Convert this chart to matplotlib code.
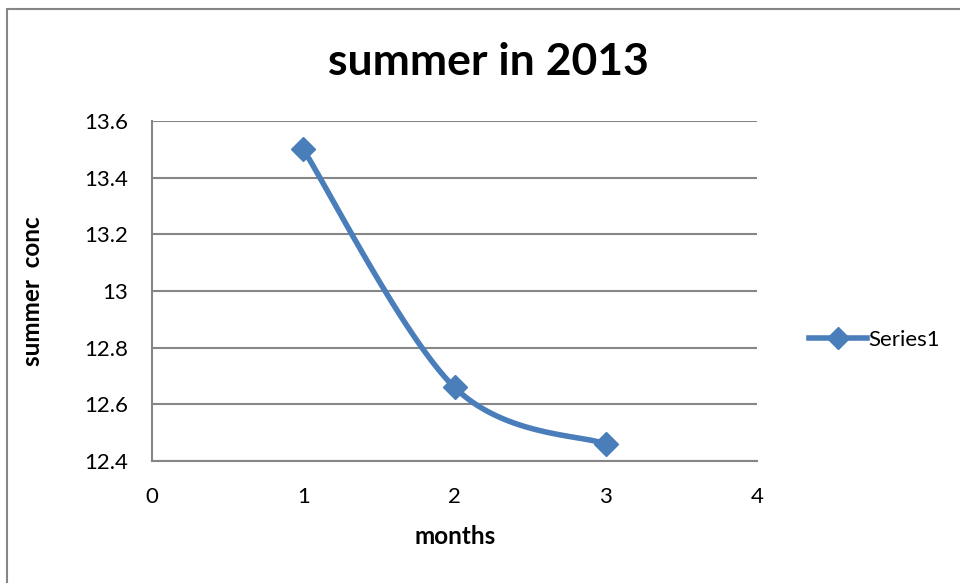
import numpy as np
import matplotlib
matplotlib.use("Agg")
import matplotlib.pyplot as plt
from matplotlib.patches import Rectangle
from matplotlib.lines import Line2D

plt.rcParams['font.family'] = ['Lato', 'DejaVu Sans']

months = [1, 2, 3]
conc = [13.5, 12.66, 12.46]
series_name = "Series1"
title = "summer in 2013"
x_label = "months"
y_label = "summer  conc"

LINE_BLUE = "#4a7ebb"
GRID_GREY = "#868686"


def smooth_curve(xs, ys, steps=60):
    """Catmull-Rom style smoothing like a spreadsheet's smoothed line."""
    pts = np.column_stack([xs, ys]).astype(float)
    ext = np.vstack([pts[0], pts, pts[-1]])
    out = []
    for i in range(1, len(ext) - 2):
        p0, p1, p2, p3 = ext[i - 1], ext[i], ext[i + 1], ext[i + 2]
        c1 = p1 + (p2 - p0) / 6.0
        c2 = p2 - (p3 - p1) / 6.0
        t = np.linspace(0, 1, steps)[:, None]
        seg = ((1 - t) ** 3) * p1 + 3 * ((1 - t) ** 2) * t * c1 \
            + 3 * (1 - t) * t ** 2 * c2 + t ** 3 * p2
        out.append(seg if i == 1 else seg[1:])
    curve = np.vstack(out)
    return curve[:, 0], curve[:, 1]


W, H = 960, 583
fig = plt.figure(figsize=(W / 100, H / 100), dpi=100)
ax = fig.add_axes([152 / W, 1 - 461 / H, (757 - 152) / W, (461 - 121) / H])

cx, cy = smooth_curve(months, conc)
ax.plot(cx, cy, color=LINE_BLUE, linewidth=4, solid_capstyle='round', zorder=3)
ax.plot(months, conc, linestyle='none', marker='D', markersize=12,
        color=LINE_BLUE, zorder=4)

ax.set_xlim(0, 4)
ax.set_ylim(12.4, 13.6)
ax.set_xticks([0, 1, 2, 3, 4])
ax.set_yticks(np.arange(12.4, 13.61, 0.2))
ax.set_yticklabels(["12.4", "12.6", "12.8", "13", "13.2", "13.4", "13.6"])
ax.tick_params(axis='both', length=0, labelsize=16, colors='black')
ax.tick_params(axis='y', pad=17)
ax.tick_params(axis='x', pad=19)
ax.yaxis.grid(True, color=GRID_GREY, linewidth=1.5)
ax.set_axisbelow(True)
for side in ('top', 'right'):
    ax.spines[side].set_visible(False)
for side in ('left', 'bottom'):
    ax.spines[side].set_color(GRID_GREY)
    ax.spines[side].set_linewidth(1.5)

# axis titles and chart title
fig.text(455 / W, 1 - 537 / H, x_label, fontsize=17.5, fontweight='bold',
         ha='center', va='center')
fig.text(33 / W, 1 - 291 / H, y_label, fontsize=17.5, fontweight='bold',
         ha='center', va='center', rotation=90)
fig.text(488 / W, 1 - 62 / H, title, fontsize=32, fontweight='bold',
         ha='center', va='center')

handle = Line2D([], [], color=LINE_BLUE, linewidth=4, marker='D', markersize=11)
fig.legend([handle], [series_name], loc='center left',
           bbox_to_anchor=(789 / W, 1 - 340 / H), frameon=False,
           fontsize=16, handlelength=2.6, handletextpad=0.05)

# chart area border
fig.patches.append(Rectangle((6.5 / W, -0.1), 2, 1.1 - 8.5 / H,
                             transform=fig.transFigure, fill=False,
                             edgecolor=GRID_GREY, linewidth=1.5))

fig.savefig("out.png", dpi=100, facecolor='white')
